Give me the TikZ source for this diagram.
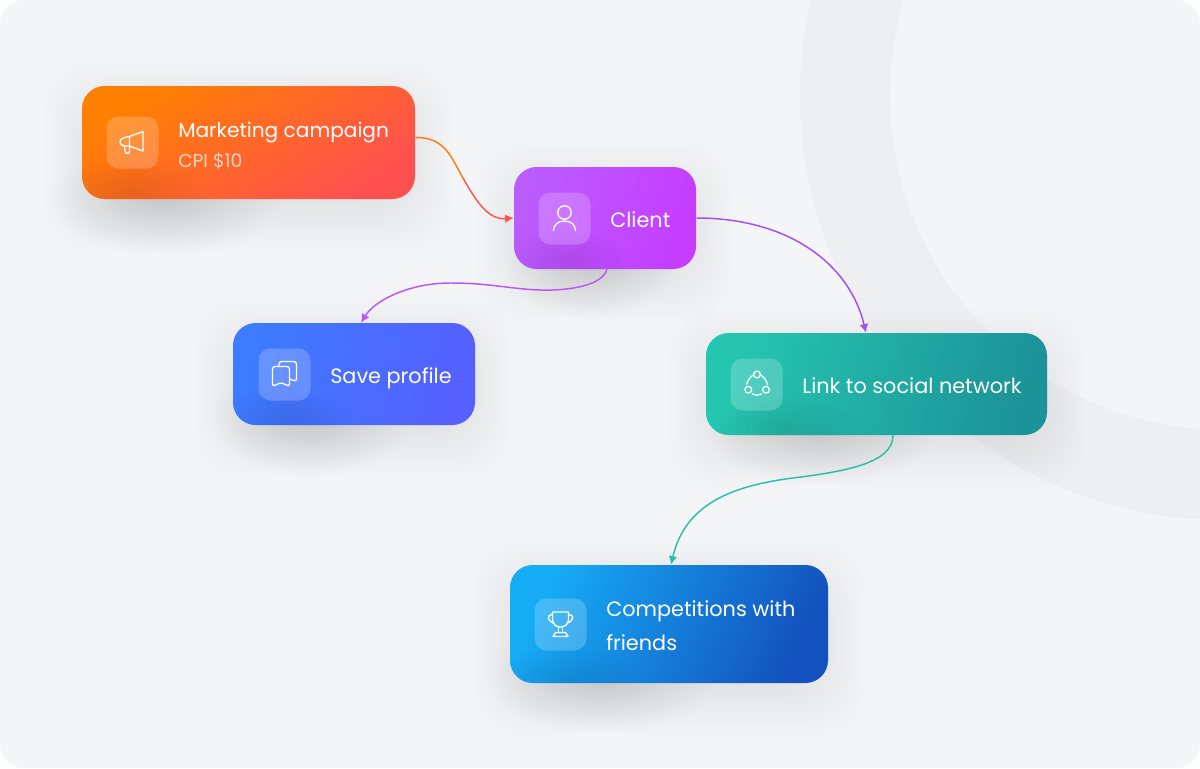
\documentclass[tikz,border=0pt]{standalone}
\usepackage{fontspec}
\setmainfont{Poppins}
\usetikzlibrary{arrows.meta,fadings}
\definecolor{pagebg}{HTML}{F4F5F7}
\definecolor{ringbg}{HTML}{EEEFF1}
\definecolor{mkta}{HTML}{FF8000}
\definecolor{mktb}{HTML}{FF5050}
\definecolor{clienta}{HTML}{BB5CFF}
\definecolor{clientb}{HTML}{C53DFF}
\definecolor{savea}{HTML}{3D7BFF}
\definecolor{saveb}{HTML}{5560FF}
\definecolor{linka}{HTML}{25C6B0}
\definecolor{linkb}{HTML}{1C9398}
\definecolor{compa}{HTML}{16ACF6}
\definecolor{compb}{HTML}{1352BE}
\definecolor{flowa}{HTML}{FF7B12}
\definecolor{flowb}{HTML}{FF5449}
\definecolor{flowc}{HTML}{BC56F8}
\definecolor{flowd}{HTML}{A94DF2}
\definecolor{flowe}{HTML}{2BBFA9}
\tikzfading[name=softblob,inner color=transparent!0,outer color=transparent!100]
\newcommand{\softshadow}[4]{%
  \foreach \g in {-12,-9,...,39}
    \fill[black,opacity=.0058,rounded corners=34pt] ({#1-\g},{#2+14-\g}) rectangle ({#3+\g},{#4+14+\g});
}
\tikzset{
  cardbox/.style={rounded corners=17pt,inner sep=0pt},
  iconbox/.style={minimum size=39pt,inner sep=0pt,rounded corners=9pt,fill=white,fill opacity=.2},
  iconline/.style={draw=white,line width=1pt,line join=round,line cap=round},
  cardlabel/.style={anchor=base west,inner sep=0pt,text=white,font=\fontsize{15.6}{15.6}\selectfont},
  cardsub/.style={cardlabel,text opacity=.72,font=\fontsize{14}{14}\selectfont},
  flow/.style={line width=1.1pt,->},
}
\begin{document}
\begin{tikzpicture}[x=.75pt,y=-.75pt,>={Latex[length=6.5pt,width=6.5pt]}]
  \useasboundingbox (0,0) rectangle (1200,768);
  % page and ring
  \fill[white] (0,0) rectangle (1200,768);
  \begin{scope}
    \path[clip,rounded corners=18pt] (0,0) rectangle (1200,768);
    \fill[pagebg] (0,0) rectangle (1200,768);
    \fill[ringbg,even odd rule] (1225,95) circle (425) (1225,95) circle (335);
  \end{scope}
  % shadows
  \softshadow{82}{86}{415}{199}
  \softshadow{514}{167}{696}{269}
  \softshadow{233}{323}{475}{425}
  \softshadow{706}{333}{1047}{435}
  \softshadow{510}{565}{828}{683}
  \foreach \bx/\by/\rx in {165/198/115,590/262/85,310/418/100,820/428/115,600/676/115}
    \fill[black,opacity=.12,path fading=softblob] (\bx,\by) ellipse ({\rx} and 58);
  % cards
  \node[cardbox,minimum width=249.75pt,minimum height=84.75pt,left color=mkta,right color=mktb,shading angle=32] (mkt) at (248.5,142.5) {};
  \node[cardbox,minimum width=136.5pt,minimum height=76.5pt,left color=clienta,right color=clientb,shading angle=75] (client) at (605,218) {};
  \node[cardbox,minimum width=181.5pt,minimum height=76.5pt,left color=savea,right color=saveb,shading angle=75] (save) at (354,374) {};
  \node[cardbox,minimum width=255.75pt,minimum height=76.5pt,left color=linka,right color=linkb,shading angle=75] (link) at (876.5,384) {};
  \node[cardbox,minimum width=238.5pt,minimum height=88.5pt,left color=compa,right color=compb,shading angle=65] (comp) at (669,624) {};
  % dark patch that falls on each card
  \foreach \nm/\bx/\by/\rx in {mkt/130/192/75,client/565/262/65,save/285/420/70,link/785/430/75,comp/565/680/75}{
    \begin{scope}
      \clip[rounded corners=17pt] (\nm.south west) rectangle (\nm.north east);
      \fill[black,opacity=.09,path fading=softblob] (\bx,\by) ellipse ({\rx} and 34);
    \end{scope}
  }
  % icon squares
  \node[iconbox] (mktico) at (132.5,142.5) {};
  \node[iconbox] (clientico) at (564.5,218.5) {};
  \node[iconbox] (saveico) at (284.5,374.5) {};
  \node[iconbox] (linkico) at (756.5,384.5) {};
  \node[iconbox] (compico) at (560.5,624.5) {};
  % megaphone
  \begin{scope}[shift={(mktico.center)},iconline]
    \draw (10.5,-11) -- (10.5,8.5) -- (-3,3.5) -- (-3,-6) -- cycle;
    \draw (-3,-6) -- (-8,-5) .. controls (-14,-4) and (-14,3) .. (-8,3.5) -- (-3,3.5);
    \draw (-8,3.5) -- (-7.5,9) .. controls (-7,11.5) and (-3,11.5) .. (-3,9) -- (-3,3.5);
  \end{scope}
  % person
  \begin{scope}[shift={(clientico.center)},iconline]
    \draw (0,-6) circle (6.7);
    \draw (-11,12) .. controls (-11,6) and (-6,2.5) .. (0,2.5) .. controls (6,2.5) and (11,6) .. (11,12);
  \end{scope}
  % bookmarks
  \begin{scope}[shift={(saveico.center)},iconline,rounded corners=2pt]
    \draw (-12,-8) -- (5,-8) -- (5,12) -- (-3.5,8) -- (-12,12) -- cycle;
    \draw (-5.5,-8) -- (-5.5,-13) -- (12,-13) -- (12,7) -- (5,4.5);
  \end{scope}
  % three linked dots
  \begin{scope}[shift={(linkico.center)},iconline]
    \draw (.5,-10) circle (3.4) (-8.2,5.2) circle (3.4) (9.5,5.2) circle (3.4);
    \draw (-4,-9) .. controls (-6.5,-7) and (-9,-4) .. (-10,0);
    \draw (5,-9) .. controls (7.5,-7) and (10,-4) .. (11,0);
    \draw (-4,9.5) .. controls (-1,11) and (2,11) .. (5,9.5);
  \end{scope}
  % trophy
  \begin{scope}[shift={(compico.center)},iconline]
    \draw (-8,-12.5) -- (8,-12.5) -- (8,-5) .. controls (8,0) and (4,2.5) .. (0,2.5) .. controls (-4,2.5) and (-8,0) .. (-8,-5) -- cycle;
    \draw (-8,-10) .. controls (-14,-10.5) and (-13.5,-3) .. (-6.5,-1.5);
    \draw (8,-10) .. controls (14,-10.5) and (13.5,-3) .. (6.5,-1.5);
    \draw (-2,2.5) -- (-2,8) (2,2.5) -- (2,8);
    \draw (-5,8) -- (5,8) -- (7.5,12) -- (-7.5,12) -- cycle;
  \end{scope}
  % texts
  \node[cardlabel,font=\fontsize{15.1}{15.1}\selectfont] (mkttxt) at (178,137) {Marketing campaign};
  \node[cardsub] (mktsub) at (178,167) {CPI \$10};
  \node[cardlabel] (clienttxt) at (610,227) {Client};
  \node[cardlabel] (savetxt) at (330,383) {Save profile};
  \node[cardlabel] (linktxt) at (802,393) {Link to social network};
  \node[cardlabel] (comptxt) at (606,616) {Competitions with};
  \node[cardlabel] (comptxtb) at (606,650) {friends};
  % connectors
  \coordinate (mktmid) at (463,178);
  \draw[line width=1.1pt,color=flowa] ([yshift=3.75pt]mkt.east) .. controls (445,137) and (451,157) .. (mktmid);
  \draw[flow,color=flowb] (mktmid) .. controls (476,201) and (488,220) .. (client.west);
  \draw[flow,color=flowc] ([xshift=1.5pt]client.south) .. controls (603,285) and (570,291) .. (540,290) .. controls (510,289) and (490,283) .. (450,283) .. controls (410,283) and (375,300) .. ([xshift=5.25pt]save.north);
  \draw[flow,color=flowd] (client.east) .. controls (790,218) and (850,265) .. ([xshift=-7.9pt]link.north);
  \draw[flow,color=flowe] ([xshift=12.4pt]link.south) .. controls (893,462) and (850,471) .. (793,478) .. controls (730,486) and (685,505) .. ([xshift=1.5pt]comp.north);
\end{tikzpicture}
\end{document}
